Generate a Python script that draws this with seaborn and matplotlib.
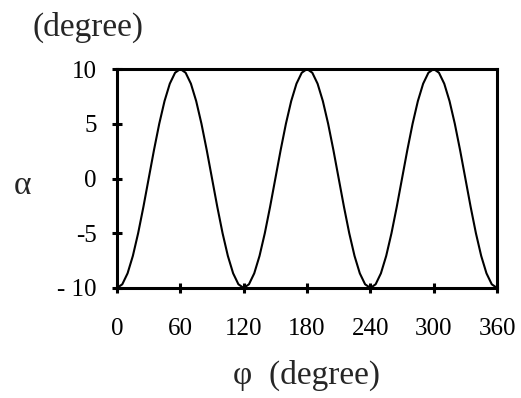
import matplotlib
matplotlib.use("Agg")
import matplotlib.pyplot as plt
import seaborn as sns
import pandas as pd

phi = list(range(0, 365, 5))
alpha = [
    -10, -9.66, -8.66, -7.07, -5, -2.59, 0, 2.59, 5, 7.07, 8.66, 9.66,
    10, 9.66, 8.66, 7.07, 5, 2.59, 0, -2.59, -5, -7.07, -8.66, -9.66,
    -10, -9.66, -8.66, -7.07, -5, -2.59, 0, 2.59, 5, 7.07, 8.66, 9.66,
    10, 9.66, 8.66, 7.07, 5, 2.59, 0, -2.59, -5, -7.07, -8.66, -9.66,
    -10, -9.66, -8.66, -7.07, -5, -2.59, 0, 2.59, 5, 7.07, 8.66, 9.66,
    10, 9.66, 8.66, 7.07, 5, 2.59, 0, -2.59, -5, -7.07, -8.66, -9.66,
    -10,
]
xticks = [0, 60, 120, 180, 240, 300, 360]
yticks = [-10, -5, 0, 5, 10]
ytick_labels = ["- 10", "-5", "0", "5", "10"]

df = pd.DataFrame({"phi": phi, "alpha": alpha})

sns.set_style("ticks")
plt.rcParams["font.family"] = ["Liberation Serif", "DejaVu Serif"]

fig = plt.figure(figsize=(5.21, 3.98), dpi=100)
ax = fig.add_axes([0.2246, 0.2764, 0.7294, 0.5502])

sns.lineplot(data=df, x="phi", y="alpha", ax=ax, color="black", linewidth=1.5)

ax.set_xlim(0, 360)
ax.set_ylim(-10, 10)
ax.set_xticks(xticks)
ax.set_yticks(yticks)
ax.set_yticklabels(ytick_labels)
ax.set_xlabel("")
ax.set_ylabel("")
for s in ax.spines.values():
    s.set_visible(True)
    s.set_linewidth(2.2)
    s.set_color("black")
ax.tick_params(direction="inout", length=7, width=2.2, labelsize=18,
               colors="black")
ax.tick_params(axis="x", pad=18)
ax.tick_params(axis="y", pad=11)

fig.text(0.062, 0.932, "(degree)", fontsize=24, ha="left", va="center")
fig.text(0.044, 0.533, "α", fontsize=24, ha="center", va="center")
fig.text(0.588, 0.058, "φ  (degree)", fontsize=24, ha="center", va="center")

fig.savefig("out.png", dpi=100)
